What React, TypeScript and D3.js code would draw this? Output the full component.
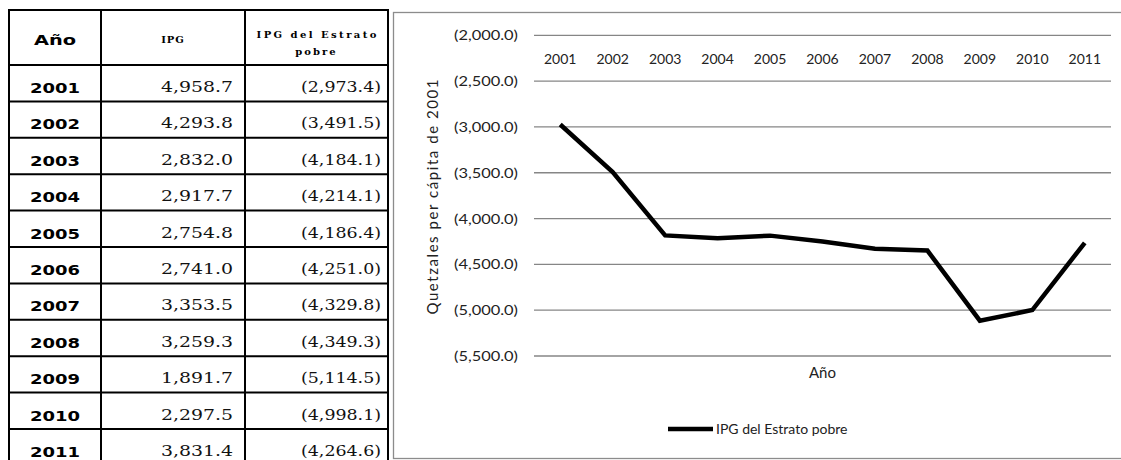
import React from "react";
import * as d3 from "d3";

// data from the table
const years = ["2001", "2002", "2003", "2004", "2005", "2006", "2007", "2008", "2009", "2010", "2011"];
const ipg = [4958.7, 4293.8, 2832.0, 2917.7, 2754.8, 2741.0, 3353.5, 3259.3, 1891.7, 2297.5, 3831.4];
const estratoPobre = [-2973.4, -3491.5, -4184.1, -4214.1, -4186.4, -4251.0, -4329.8, -4349.3, -5114.5, -4998.1, -4264.6];
const yTicks = [-2000, -2500, -3000, -3500, -4000, -4500, -5000, -5500];

const seriesName = "IPG del Estrato pobre";
const yTitle = "Quetzales per cápita de 2001";
const xTitle = "Año";

const W = 1121;
const H = 460;

const fmt = d3.format(",.1f");
const acct = (v: number) => (v < 0 ? `(${fmt(-v)})` : fmt(v));

export default function App() {
  // table geometry
  const cols = [9, 101, 245, 388];
  const headTop = 10;
  const headBottom = 65;
  const rowY = d3.scaleLinear().domain([0, years.length]).range([headBottom, headBottom + years.length * 36.4]);

  // chart scales
  const x = d3.scalePoint<string>().domain(years).range([534, 1111]).padding(0.5);
  const y = d3.scaleLinear().domain([-2000, -5500]).range([35.3, 356]);
  const line = d3
    .line<number>()
    .x((_, i) => x(years[i]) as number)
    .y((d) => y(d));

  const serif = "'DejaVu Serif', serif";
  const sans = "Lato, 'Open Sans', sans-serif";

  return (
    <svg width={W} height={H} style={{ position: "absolute", left: 0, top: 0, background: "#fff" }}>
      <rect width={W} height={H} fill="#fff" />

      {/* ---------- table ---------- */}
      <g>
        <text x={(cols[0] + cols[1]) / 2} y={45} textAnchor="middle" fontFamily="'DejaVu Sans', sans-serif" fontWeight="bold" fontSize={14} textLength={42} lengthAdjust="spacingAndGlyphs">
          Año
        </text>
        <text x={(cols[1] + cols[2]) / 2} y={43} textAnchor="middle" fontFamily={serif} fontWeight="bold" fontSize={10} letterSpacing={1}>
          IPG
        </text>
        <text x={(cols[2] + cols[3]) / 2} y={38} textAnchor="middle" fontFamily={serif} fontWeight="bold" fontSize={10} textLength={120} lengthAdjust="spacing">
          IPG del Estrato
        </text>
        <text x={(cols[2] + cols[3]) / 2} y={55} textAnchor="middle" fontFamily={serif} fontWeight="bold" fontSize={10} letterSpacing={2}>
          pobre
        </text>

        {years.map((yr, i) => {
          const base = rowY(i) + 28;
          return (
            <g key={yr}>
              <text x={(cols[0] + cols[1]) / 2} y={base} textAnchor="middle" fontFamily="'DejaVu Sans', sans-serif" fontWeight="bold" fontSize={14} textLength={50} lengthAdjust="spacingAndGlyphs">
                {yr}
              </text>
              <text x={233} y={base - 1} textAnchor="end" fontFamily={serif} fontSize={14} fill="#111" textLength={72} lengthAdjust="spacingAndGlyphs">
                {acct(ipg[i])}
              </text>
              <text x={381} y={base - 1} textAnchor="end" fontFamily={serif} fontSize={14} fill="#111" textLength={80} lengthAdjust="spacingAndGlyphs">
                {acct(estratoPobre[i])}
              </text>
            </g>
          );
        })}

        {/* grid lines of the table */}
        <line x1={cols[0]} x2={cols[3]} y1={headTop} y2={headTop} stroke="#000" strokeWidth={2} />
        <line x1={cols[0]} x2={cols[3]} y1={headBottom} y2={headBottom} stroke="#000" strokeWidth={2} />
        {years.map((yr, i) => (
          <line key={yr} x1={cols[0]} x2={cols[3]} y1={rowY(i + 1)} y2={rowY(i + 1)} stroke="#000" strokeWidth={2} />
        ))}
        {cols.map((c) => (
          <line key={c} x1={c} x2={c} y1={headTop - 1} y2={H} stroke="#000" strokeWidth={2} />
        ))}
      </g>

      {/* ---------- chart ---------- */}
      <rect x={393.5} y={12.5} width={W} height={446} fill="none" stroke="#8c8c8c" strokeWidth={1.3} />

      {yTicks.map((t) => (
        <g key={t}>
          <line x1={534} x2={1111} y1={y(t)} y2={y(t)} stroke="#868686" strokeWidth={1.3} />
          <text x={518} y={y(t) + 5} textAnchor="end" fontFamily={sans} fontSize={14} fill="#222" textLength={64} lengthAdjust="spacingAndGlyphs">
            {acct(t)}
          </text>
        </g>
      ))}

      {years.map((yr) => (
        <text key={yr} x={x(yr)} y={64} textAnchor="middle" fontFamily={sans} fontSize={14} fill="#222">
          {yr}
        </text>
      ))}

      <path d={line(estratoPobre) ?? ""} fill="none" stroke="#000" strokeWidth={4.5} strokeLinejoin="miter" />

      <text x={(534 + 1111) / 2} y={378} textAnchor="middle" fontFamily={sans} fontSize={15} fill="#222">
        {xTitle}
      </text>

      <text transform={`translate(438,197) rotate(-90)`} textAnchor="middle" fontFamily={sans} fontSize={15} fill="#222" textLength={235} lengthAdjust="spacing">
        {yTitle}
      </text>

      {/* legend */}
      <line x1={668} x2={713} y1={429} y2={429} stroke="#000" strokeWidth={4.5} />
      <text x={716} y={434} fontFamily={sans} fontSize={14} fill="#222">
        {seriesName}
      </text>
    </svg>
  );
}
